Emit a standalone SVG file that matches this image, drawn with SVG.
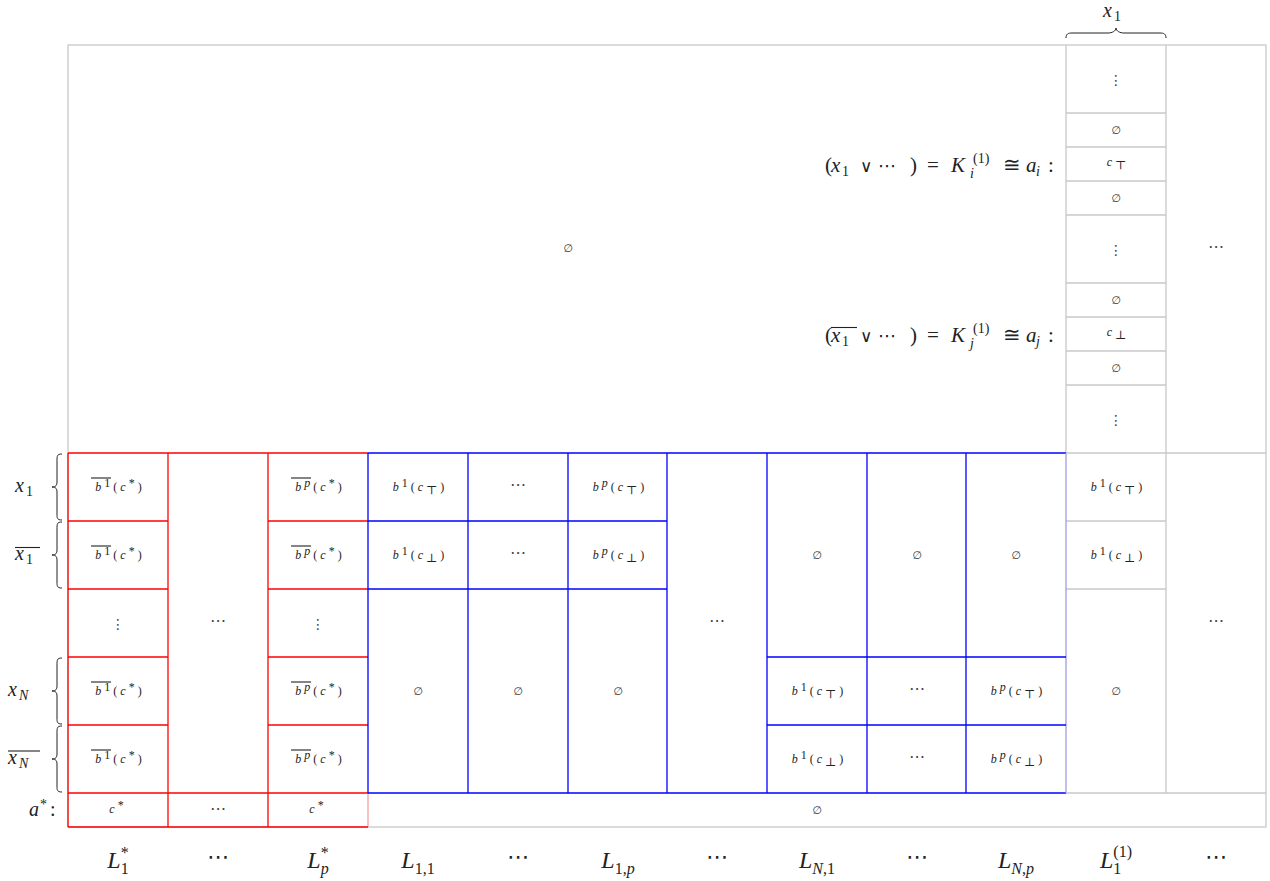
<svg xmlns="http://www.w3.org/2000/svg" width="1270" height="881" viewBox="0 0 1270 881">
<style>
.g{fill:none;stroke:#c8c8c8;stroke-width:1.3}
.r{fill:none;stroke:#f00;stroke-width:1.3}
.b{fill:none;stroke:#00f;stroke-width:1.3}
.lb{fill:none;stroke:#9c9ce2;stroke-width:1.3}
.lr{fill:none;stroke:#f3a0a0;stroke-width:1.3}
.br{fill:none;stroke:#222;stroke-width:1}
.ol{stroke:#222;stroke-width:1.1}
text{font-family:"Liberation Serif","DejaVu Serif",serif;fill:#222}
.s{font-size:12px;letter-spacing:3px;text-anchor:middle}
.i{font-style:italic}
.e{font-family:"DejaVu Sans",sans-serif;font-size:11px;text-anchor:middle;fill:#333}
.d{font-family:"DejaVu Sans",sans-serif;font-size:16px;text-anchor:middle;fill:#444}
.v{font-family:"DejaVu Sans",sans-serif;font-size:14px;text-anchor:middle;fill:#444}
.f{font-size:21px}
.F{font-size:20px}
.L{font-size:24px;text-anchor:middle}
.sm{font-size:12px}
.sm2{font-size:14px}
.sy{font-family:"DejaVu Sans",sans-serif;font-style:normal}
</style>

<g id="frame">
<rect class="g" x="68" y="45" width="1198" height="782"/>
<line class="g" x1="1066" y1="45" x2="1066" y2="453"/>
<line class="g" x1="1166" y1="45" x2="1166" y2="793"/>
<line class="g" x1="1066" y1="453" x2="1266" y2="453"/>
<line class="g" x1="1066" y1="113" x2="1166" y2="113"/>
<line class="g" x1="1066" y1="147" x2="1166" y2="147"/>
<line class="g" x1="1066" y1="181" x2="1166" y2="181"/>
<line class="g" x1="1066" y1="215" x2="1166" y2="215"/>
<line class="g" x1="1066" y1="283" x2="1166" y2="283"/>
<line class="g" x1="1066" y1="317" x2="1166" y2="317"/>
<line class="g" x1="1066" y1="351" x2="1166" y2="351"/>
<line class="g" x1="1066" y1="385" x2="1166" y2="385"/>
<line class="g" x1="1066" y1="521" x2="1166" y2="521"/>
<line class="g" x1="1066" y1="589" x2="1166" y2="589"/>
<line class="g" x1="1066" y1="793" x2="1266" y2="793"/>
<line class="lr" x1="368" y1="793" x2="368" y2="827"/>
</g>

<g id="red-grid">
<line class="r" x1="68" y1="453" x2="68" y2="827"/>
<line class="r" x1="68" y1="453" x2="368" y2="453"/>
<line class="r" x1="68" y1="827" x2="368" y2="827"/>
<line class="r" x1="168" y1="453" x2="168" y2="827"/>
<line class="r" x1="268" y1="453" x2="268" y2="827"/>
<line class="r" x1="68" y1="793" x2="368" y2="793"/>
<line class="r" x1="68" y1="521" x2="168" y2="521"/>
<line class="r" x1="68" y1="589" x2="168" y2="589"/>
<line class="r" x1="68" y1="657" x2="168" y2="657"/>
<line class="r" x1="68" y1="725" x2="168" y2="725"/>
<line class="r" x1="268" y1="521" x2="368" y2="521"/>
<line class="r" x1="268" y1="589" x2="368" y2="589"/>
<line class="r" x1="268" y1="657" x2="368" y2="657"/>
<line class="r" x1="268" y1="725" x2="368" y2="725"/>
</g>

<g id="blue-grid">
<line class="b" x1="368" y1="453" x2="1066" y2="453"/>
<line class="b" x1="368" y1="793" x2="1066" y2="793"/>
<line class="b" x1="368" y1="453" x2="368" y2="793"/>
<line class="lb" x1="1066" y1="453" x2="1066" y2="793"/>
<line class="b" x1="468" y1="453" x2="468" y2="793"/>
<line class="b" x1="568" y1="453" x2="568" y2="793"/>
<line class="b" x1="667" y1="453" x2="667" y2="793"/>
<line class="b" x1="767" y1="453" x2="767" y2="793"/>
<line class="b" x1="867" y1="453" x2="867" y2="793"/>
<line class="b" x1="966" y1="453" x2="966" y2="793"/>
<line class="b" x1="368" y1="521" x2="667" y2="521"/>
<line class="b" x1="368" y1="589" x2="667" y2="589"/>
<line class="b" x1="767" y1="657" x2="1066" y2="657"/>
<line class="b" x1="767" y1="725" x2="1066" y2="725"/>
</g>

<g id="connectors">
<path class="br" d="M62,454 C57,454 57,456 57,461 L57,482 C57,485 56,487 52,487 C56,487 57,489 57,492 L57,514 C57,518 57,520 62,520"/>
<path class="br" d="M62,522 C57,522 57,524 57,529 L57,550 C57,553 56,555 52,555 C56,555 57,557 57,560 L57,582 C57,586 57,588 62,588"/>
<path class="br" d="M62,658 C57,658 57,660 57,665 L57,686 C57,689 56,691 52,691 C56,691 57,693 57,696 L57,718 C57,722 57,724 62,724"/>
<path class="br" d="M62,726 C57,726 57,728 57,733 L57,754 C57,757 56,759 52,759 C56,759 57,761 57,764 L57,786 C57,790 57,792 62,792"/>
<path class="br" d="M1066,38 C1066,34 1068,33 1072,33 L1108,33 C1112,33 1116,31 1116,28 C1116,31 1120,33 1124,33 L1160,33 C1164,33 1166,34 1166,38"/>
</g>

<g id="row-labels">
<text class="F" y="492"><tspan x="15" class="i">x</tspan><tspan x="26" class="sm2" dy="4">1</tspan></text>
<text class="F" y="560"><tspan x="15" class="i">x</tspan><tspan x="26" class="sm2" dy="4">1</tspan></text>
<line class="ol" x1="15" y1="547.5" x2="40" y2="547.5"/>
<text class="F" y="696"><tspan x="8" class="i">x</tspan><tspan x="19" class="sm2 i" dy="4">N</tspan></text>
<text class="F" y="764"><tspan x="8" class="i">x</tspan><tspan x="19" class="sm2 i" dy="4">N</tspan></text>
<line class="ol" x1="8" y1="751" x2="40" y2="751"/>
<text class="F" y="816"><tspan x="29" class="i">a</tspan><tspan x="40" class="sm2" dy="-7">*</tspan><tspan x="50" dy="7">:</tspan></text>
<text class="F" y="17"><tspan x="1103" class="i">x</tspan><tspan x="1114" class="sm2" dy="4">1</tspan></text>
</g>

<g id="formulas">
<text class="f" y="172"><tspan x="825">(</tspan><tspan x="831" class="i">x</tspan><tspan x="842" class="sm2" dy="4">1</tspan><tspan x="860" dy="-4" class="sy" font-size="17">∨</tspan><tspan x="878" class="sy" font-size="18">⋯</tspan><tspan x="910">)</tspan><tspan x="927">=</tspan><tspan x="951" class="i">K</tspan><tspan x="970" class="sm2 i" dy="6">i</tspan><tspan x="973" class="sm2" dy="-15">(1)</tspan><tspan x="1003" dy="9">≅</tspan><tspan x="1026" class="i">a</tspan><tspan x="1036" class="sm2 i" dy="4">i</tspan><tspan x="1048" dy="-4">:</tspan></text>
<text class="f" y="342"><tspan x="825">(</tspan><tspan x="831" class="i">x</tspan><tspan x="842" class="sm2" dy="4">1</tspan><tspan x="860" dy="-4" class="sy" font-size="17">∨</tspan><tspan x="878" class="sy" font-size="18">⋯</tspan><tspan x="910">)</tspan><tspan x="927">=</tspan><tspan x="951" class="i">K</tspan><tspan x="970" class="sm2 i" dy="6">j</tspan><tspan x="973" class="sm2" dy="-15">(1)</tspan><tspan x="1003" dy="9">≅</tspan><tspan x="1026" class="i">a</tspan><tspan x="1036" class="sm2 i" dy="4">j</tspan><tspan x="1048" dy="-4">:</tspan></text>
<line class="ol" x1="831" y1="327.5" x2="857" y2="327.5"/>
</g>

<g id="top-area">
<text class="e" x="568" y="252">∅</text>
</g>

<g id="col-L1-1-top">
<text class="v" x="1116" y="85">⋮</text>
<text class="e" x="1116" y="134">∅</text>
<text class="s" x="1118" y="166"><tspan class="i">c</tspan><tspan class="sm" dy="3">⊤</tspan></text>
<text class="e" x="1116" y="202">∅</text>
<text class="v" x="1116" y="255">⋮</text>
<text class="e" x="1116" y="304">∅</text>
<text class="s" x="1118" y="336"><tspan class="i">c</tspan><tspan class="sm" dy="3">⊥</tspan></text>
<text class="e" x="1116" y="372">∅</text>
<text class="v" x="1116" y="425">⋮</text>
</g>

<g id="col-more">
<text class="d" x="1216" y="252">⋯</text>
<text class="d" x="1216" y="626">⋯</text>
</g>

<g id="col-Lstar-1">
<text class="s" x="120" y="491"><tspan class="i">b</tspan><tspan class="sm" dy="-4">1</tspan><tspan dy="4">(</tspan><tspan class="i">c</tspan><tspan class="sm" dy="-4">*</tspan><tspan dy="4">)</tspan></text>
<text class="s" x="120" y="559"><tspan class="i">b</tspan><tspan class="sm" dy="-4">1</tspan><tspan dy="4">(</tspan><tspan class="i">c</tspan><tspan class="sm" dy="-4">*</tspan><tspan dy="4">)</tspan></text>
<text class="v" x="118" y="629">⋮</text>
<text class="s" x="120" y="695"><tspan class="i">b</tspan><tspan class="sm" dy="-4">1</tspan><tspan dy="4">(</tspan><tspan class="i">c</tspan><tspan class="sm" dy="-4">*</tspan><tspan dy="4">)</tspan></text>
<text class="s" x="120" y="763"><tspan class="i">b</tspan><tspan class="sm" dy="-4">1</tspan><tspan dy="4">(</tspan><tspan class="i">c</tspan><tspan class="sm" dy="-4">*</tspan><tspan dy="4">)</tspan></text>
<text class="s" x="118" y="813"><tspan class="i">c</tspan><tspan class="sm" dy="-4">*</tspan></text>
<line class="ol" x1="91" y1="478" x2="111" y2="478"/>
<line class="ol" x1="91" y1="546" x2="111" y2="546"/>
<line class="ol" x1="91" y1="682" x2="111" y2="682"/>
<line class="ol" x1="91" y1="750" x2="111" y2="750"/>
</g>

<g id="col-Lstar-dots">
<text class="d" x="218" y="626">⋯</text>
<text class="d" x="218" y="814">⋯</text>
</g>

<g id="col-Lstar-p">
<text class="s" x="320" y="491"><tspan class="i">b</tspan><tspan class="sm i" dy="-4">p</tspan><tspan dy="4">(</tspan><tspan class="i">c</tspan><tspan class="sm" dy="-4">*</tspan><tspan dy="4">)</tspan></text>
<text class="s" x="320" y="559"><tspan class="i">b</tspan><tspan class="sm i" dy="-4">p</tspan><tspan dy="4">(</tspan><tspan class="i">c</tspan><tspan class="sm" dy="-4">*</tspan><tspan dy="4">)</tspan></text>
<text class="v" x="318" y="629">⋮</text>
<text class="s" x="320" y="695"><tspan class="i">b</tspan><tspan class="sm i" dy="-4">p</tspan><tspan dy="4">(</tspan><tspan class="i">c</tspan><tspan class="sm" dy="-4">*</tspan><tspan dy="4">)</tspan></text>
<text class="s" x="320" y="763"><tspan class="i">b</tspan><tspan class="sm i" dy="-4">p</tspan><tspan dy="4">(</tspan><tspan class="i">c</tspan><tspan class="sm" dy="-4">*</tspan><tspan dy="4">)</tspan></text>
<text class="s" x="318" y="813"><tspan class="i">c</tspan><tspan class="sm" dy="-4">*</tspan></text>
<line class="ol" x1="291" y1="478" x2="311" y2="478"/>
<line class="ol" x1="291" y1="546" x2="311" y2="546"/>
<line class="ol" x1="291" y1="682" x2="311" y2="682"/>
<line class="ol" x1="291" y1="750" x2="311" y2="750"/>
</g>

<g id="col-L-1-1">
<text class="s" x="420" y="491"><tspan class="i">b</tspan><tspan class="sm" dy="-4">1</tspan><tspan dy="4">(</tspan><tspan class="i">c</tspan><tspan class="sm" dy="3">⊤</tspan><tspan dy="-3">)</tspan></text>
<text class="s" x="420" y="559"><tspan class="i">b</tspan><tspan class="sm" dy="-4">1</tspan><tspan dy="4">(</tspan><tspan class="i">c</tspan><tspan class="sm" dy="3">⊥</tspan><tspan dy="-3">)</tspan></text>
<text class="e" x="418" y="695">∅</text>
</g>
<g id="col-L-1-dots">
<text class="d" x="518" y="490">⋯</text>
<text class="d" x="518" y="558">⋯</text>
<text class="e" x="518" y="695">∅</text>
</g>
<g id="col-L-1-p">
<text class="s" x="620" y="491"><tspan class="i">b</tspan><tspan class="sm i" dy="-4">p</tspan><tspan dy="4">(</tspan><tspan class="i">c</tspan><tspan class="sm" dy="3">⊤</tspan><tspan dy="-3">)</tspan></text>
<text class="s" x="620" y="559"><tspan class="i">b</tspan><tspan class="sm i" dy="-4">p</tspan><tspan dy="4">(</tspan><tspan class="i">c</tspan><tspan class="sm" dy="3">⊥</tspan><tspan dy="-3">)</tspan></text>
<text class="e" x="618" y="695">∅</text>
</g>
<g id="col-L-dots">
<text class="d" x="717" y="626">⋯</text>
</g>
<g id="col-L-N-1">
<text class="e" x="817" y="559">∅</text>
<text class="s" x="819" y="695"><tspan class="i">b</tspan><tspan class="sm" dy="-4">1</tspan><tspan dy="4">(</tspan><tspan class="i">c</tspan><tspan class="sm" dy="3">⊤</tspan><tspan dy="-3">)</tspan></text>
<text class="s" x="819" y="763"><tspan class="i">b</tspan><tspan class="sm" dy="-4">1</tspan><tspan dy="4">(</tspan><tspan class="i">c</tspan><tspan class="sm" dy="3">⊥</tspan><tspan dy="-3">)</tspan></text>
</g>
<g id="col-L-N-dots">
<text class="e" x="917" y="559">∅</text>
<text class="d" x="917" y="694">⋯</text>
<text class="d" x="917" y="762">⋯</text>
</g>
<g id="col-L-N-p">
<text class="e" x="1016" y="559">∅</text>
<text class="s" x="1018" y="695"><tspan class="i">b</tspan><tspan class="sm i" dy="-4">p</tspan><tspan dy="4">(</tspan><tspan class="i">c</tspan><tspan class="sm" dy="3">⊤</tspan><tspan dy="-3">)</tspan></text>
<text class="s" x="1018" y="763"><tspan class="i">b</tspan><tspan class="sm i" dy="-4">p</tspan><tspan dy="4">(</tspan><tspan class="i">c</tspan><tspan class="sm" dy="3">⊥</tspan><tspan dy="-3">)</tspan></text>
</g>
<g id="col-L1-1-bottom">
<text class="s" x="1118" y="491"><tspan class="i">b</tspan><tspan class="sm" dy="-4">1</tspan><tspan dy="4">(</tspan><tspan class="i">c</tspan><tspan class="sm" dy="3">⊤</tspan><tspan dy="-3">)</tspan></text>
<text class="s" x="1118" y="559"><tspan class="i">b</tspan><tspan class="sm" dy="-4">1</tspan><tspan dy="4">(</tspan><tspan class="i">c</tspan><tspan class="sm" dy="3">⊥</tspan><tspan dy="-3">)</tspan></text>
<text class="e" x="1116" y="695">∅</text>
</g>
<g id="bottom-row">
<text class="e" x="817" y="814">∅</text>
</g>

<g id="column-labels">
<text class="L" x="118" y="868"><tspan class="i">L</tspan><tspan font-size="16" dy="6">1</tspan><tspan font-size="16" dx="-8" dy="-16">*</tspan></text>
<text class="L" x="218" y="864" style="font-family:'DejaVu Sans',sans-serif;font-size:22px">⋯</text>
<text class="L" x="318" y="868"><tspan class="i">L</tspan><tspan class="i" font-size="16" dy="6">p</tspan><tspan font-size="16" dx="-8" dy="-16">*</tspan></text>
<text class="L" x="418" y="868"><tspan class="i">L</tspan><tspan font-size="16" dy="6">1,1</tspan></text>
<text class="L" x="518" y="864" style="font-family:'DejaVu Sans',sans-serif;font-size:22px">⋯</text>
<text class="L" x="618" y="868"><tspan class="i">L</tspan><tspan font-size="16" dy="6">1,<tspan class="i">p</tspan></tspan></text>
<text class="L" x="717" y="864" style="font-family:'DejaVu Sans',sans-serif;font-size:22px">⋯</text>
<text class="L" x="817" y="868"><tspan class="i">L</tspan><tspan font-size="16" dy="6"><tspan class="i">N</tspan>,1</tspan></text>
<text class="L" x="917" y="864" style="font-family:'DejaVu Sans',sans-serif;font-size:22px">⋯</text>
<text class="L" x="1016" y="868"><tspan class="i">L</tspan><tspan font-size="16" dy="6"><tspan class="i">N</tspan>,<tspan class="i">p</tspan></tspan></text>
<text class="L" x="1116" y="868"><tspan class="i">L</tspan><tspan font-size="16" dy="6">1</tspan><tspan font-size="16" dx="-8" dy="-17">(1)</tspan></text>
<text class="L" x="1216" y="864" style="font-family:'DejaVu Sans',sans-serif;font-size:22px">⋯</text>
</g>
</svg>
